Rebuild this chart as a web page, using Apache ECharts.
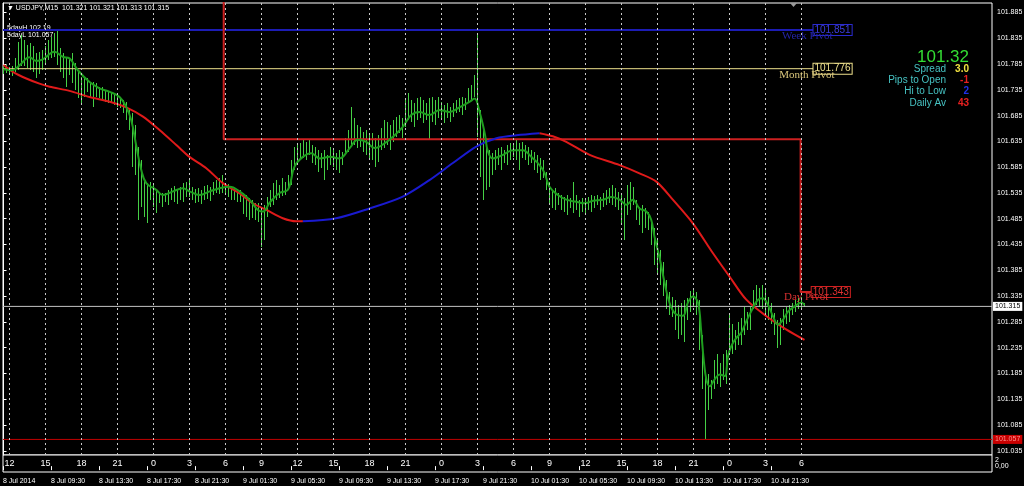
<!DOCTYPE html>
<html><head><meta charset="utf-8">
<script src="https://cdn.jsdelivr.net/npm/echarts@6/dist/echarts.min.js"></script>
<style>html,body{margin:0;padding:0;background:#000;}#c{width:1024px;height:486px;}</style>
</head><body><div id="c"></div>
<script>
// ---- data (USDJPY M15, one value per bar) ----
const highs = [
101.781,101.783,101.779,101.781,101.796,101.827,101.841,101.831,101.822,101.825,
101.820,101.806,101.808,101.812,101.820,101.831,101.837,101.845,101.849,101.816,
101.806,101.798,101.796,101.806,101.787,101.773,101.760,101.760,101.758,101.748,
101.750,101.748,101.740,101.740,101.734,101.731,101.731,101.729,101.725,101.721,
101.715,101.711,101.700,101.690,101.667,101.624,101.599,101.560,101.554,101.556,
101.554,101.541,101.537,101.535,101.535,101.541,101.545,101.549,101.541,101.547,
101.554,101.556,101.560,101.547,101.543,101.545,101.541,101.549,101.551,101.547,
101.556,101.560,101.564,101.570,101.554,101.553,101.547,101.545,101.541,101.541,
101.535,101.531,101.525,101.522,101.516,101.516,101.508,101.512,101.527,101.541,
101.554,101.560,101.551,101.564,101.556,101.570,101.599,101.624,101.628,101.632,
101.638,101.634,101.638,101.628,101.624,101.618,101.612,101.618,101.609,101.624,
101.618,101.612,101.618,101.614,101.641,101.657,101.702,101.680,101.667,101.663,
101.653,101.657,101.647,101.651,101.641,101.647,101.661,101.676,101.672,101.667,
101.676,101.682,101.686,101.680,101.715,101.729,101.715,101.709,101.719,101.721,
101.715,101.709,101.719,101.721,101.715,101.721,101.711,101.705,101.709,101.702,
101.709,101.715,101.719,101.721,101.719,101.738,101.744,101.764,101.845,101.696,
101.657,101.638,101.618,101.612,101.618,101.622,101.624,101.618,101.628,101.632,
101.632,101.638,101.632,101.634,101.628,101.624,101.618,101.614,101.609,101.603,
101.599,101.576,101.556,101.541,101.545,101.535,101.531,101.527,101.531,101.525,
101.556,101.531,101.522,101.525,101.522,101.527,101.531,101.529,101.531,101.527,
101.535,101.541,101.545,101.551,101.545,101.537,101.531,101.525,101.551,101.556,
101.547,101.522,101.508,101.512,101.506,101.498,101.479,101.467,101.444,101.425,
101.402,101.367,101.342,101.334,101.328,101.318,101.322,101.328,101.332,101.344,
101.347,101.342,101.328,101.260,101.183,101.183,101.173,101.212,101.222,101.206,
101.222,101.231,101.299,101.280,101.270,101.284,101.293,101.313,101.305,101.314,
101.347,101.357,101.351,101.357,101.347,101.334,101.322,101.303,101.289,101.293,
101.309,101.314,101.318,101.322,101.328,101.332,101.334,101.321];
const lows = [
101.765,101.767,101.764,101.762,101.769,101.773,101.781,101.781,101.777,101.773,
101.769,101.758,101.765,101.773,101.785,101.792,101.796,101.798,101.783,101.769,
101.758,101.740,101.764,101.748,101.734,101.719,101.709,101.721,101.731,101.721,
101.702,101.721,101.719,101.715,101.711,101.709,101.711,101.705,101.702,101.700,
101.690,101.676,101.657,101.585,101.570,101.483,101.508,101.489,101.477,101.522,
101.508,101.496,101.516,101.508,101.518,101.512,101.522,101.518,101.514,101.522,
101.518,101.527,101.527,101.522,101.516,101.518,101.514,101.522,101.524,101.520,
101.531,101.535,101.533,101.535,101.535,101.527,101.522,101.522,101.518,101.518,
101.495,101.489,101.483,101.487,101.483,101.479,101.430,101.444,101.489,101.508,
101.512,101.522,101.525,101.529,101.531,101.541,101.551,101.580,101.589,101.599,
101.603,101.599,101.609,101.593,101.589,101.576,101.583,101.560,101.580,101.589,
101.585,101.580,101.574,101.589,101.609,101.614,101.624,101.628,101.622,101.624,
101.614,101.609,101.603,101.599,101.585,101.595,101.618,101.622,101.628,101.618,
101.634,101.643,101.651,101.641,101.663,101.676,101.672,101.663,101.676,101.680,
101.671,101.676,101.638,101.672,101.667,101.680,101.676,101.671,101.680,101.672,
101.682,101.690,101.692,101.686,101.696,101.709,101.715,101.721,101.643,101.566,
101.522,101.541,101.547,101.570,101.580,101.589,101.580,101.593,101.589,101.599,
101.605,101.599,101.580,101.603,101.599,101.589,101.593,101.580,101.574,101.560,
101.564,101.541,101.512,101.506,101.502,101.512,101.502,101.498,101.493,101.506,
101.496,101.502,101.489,101.498,101.493,101.502,101.498,101.506,101.512,101.502,
101.508,101.512,101.516,101.512,101.508,101.502,101.473,101.444,101.493,101.502,
101.512,101.483,101.473,101.458,101.468,101.464,101.434,101.396,101.380,101.357,
101.336,101.309,101.299,101.295,101.270,101.251,101.260,101.245,101.289,101.305,
101.313,101.299,101.231,101.154,101.057,101.115,101.135,101.154,101.164,101.158,
101.173,101.164,101.231,101.222,101.231,101.241,101.241,101.260,101.270,101.270,
101.309,101.318,101.313,101.309,101.299,101.289,101.280,101.260,101.235,101.241,
101.270,101.280,101.284,101.299,101.305,101.309,101.309,101.313];
// fast MA (green), [bar index, price]
const fastMA = [[0,101.775],[3,101.773],[5.4,101.783],[8.7,101.798],[10.9,101.791],[13.1,101.794],[17,101.809],[19.8,101.799],[22,101.796],[24.8,101.773],[28.7,101.750],[32,101.738],[35.4,101.731],[38.7,101.721],[40.9,101.702],[42.6,101.676],[44.3,101.625],[45.9,101.580],[47.6,101.554],[50.9,101.541],[53.1,101.531],[56.5,101.538],[59.8,101.544],[62,101.538],[65.4,101.531],[68.7,101.538],[72,101.544],[75.4,101.547],[78.7,101.538],[82,101.522],[84.8,101.502],[86.5,101.499],[88.7,101.516],[92,101.535],[94.8,101.541],[97,101.586],[99.8,101.605],[102.6,101.612],[105.4,101.602],[108.7,101.605],[112,101.602],[115.4,101.622],[118.1,101.638],[120.9,101.634],[123.7,101.622],[127,101.631],[130.4,101.647],[133.1,101.663],[135.9,101.686],[138.7,101.692],[142,101.686],[145.4,101.696],[148.7,101.692],[152,101.701],[155.4,101.712],[157,101.718],[158.7,101.692],[160.4,101.651],[161.5,101.615],[163.1,101.602],[166.5,101.609],[169.8,101.618],[173.1,101.618],[175.9,101.605],[178.7,101.589],[180.4,101.573],[182,101.547],[184.8,101.531],[187.6,101.522],[190.9,101.518],[193.7,101.515],[196.5,101.520],[199.8,101.522],[202.6,101.527],[205.4,101.522],[207.6,101.512],[209.8,101.522],[212,101.505],[214.3,101.499],[215.9,101.483],[217,101.450],[218.7,101.409],[220.4,101.360],[222,101.322],[223.9,101.301],[226.5,101.297],[228.1,101.322],[229.8,101.334],[231.5,101.322],[232.6,101.264],[233.4,101.212],[234.3,101.173],[235.4,101.160],[237,101.173],[238.7,101.183],[240.4,101.180],[241.5,101.218],[242.6,101.238],[244.3,101.254],[245.9,101.264],[247.6,101.286],[249.8,101.312],[251.5,101.328],[253.1,101.331],[254.8,101.318],[256.5,101.296],[258.1,101.280],[259.8,101.289],[261.5,101.305],[263.7,101.315],[265.9,101.322],[267,101.318]];
// slow MA, coloured by slope
const slowFalling1 = [[0,101.783],[3.1,101.770],[7.6,101.757],[12,101.747],[15.4,101.741],[22,101.733],[28.7,101.721],[35.4,101.712],[40.9,101.701],[46.5,101.683],[52,101.657],[57.6,101.628],[62,101.605],[67.6,101.583],[73.1,101.554],[78.7,101.534],[83.1,101.515],[87.6,101.502],[93.1,101.486],[97.6,101.480],[99.8,101.480]];
const slowRising = [[99.8,101.480],[110.9,101.486],[122,101.505],[133.1,101.528],[142,101.560],[149.8,101.593],[157.6,101.625],[164.3,101.641],[170.9,101.647],[178.7,101.651]];
const slowFalling2 = [[178.7,101.651],[183.1,101.645],[187.6,101.634],[195.4,101.609],[205.4,101.589],[212,101.573],[217.6,101.557],[223.1,101.522],[229.8,101.476],[236.5,101.418],[242,101.373],[247.6,101.328],[254.3,101.296],[261,101.270],[267,101.250]];
const dayPivotSteps = [[73.4,102.0],[73.4,101.639],[265.7,101.639],[265.7,101.343],[269.4,101.343]];
const weekPivot = 101.851, monthPivot = 101.776, dayPivot = 101.343;
const bidPrice = 101.315, fiveDayLow = 101.057, fiveDayHigh = 102.19;
const priceTicks = [101.035,101.085,101.135,101.185,101.235,101.285,101.335,101.385,101.435,101.485,101.535,101.585,101.635,101.685,101.735,101.785,101.835,101.885];
const hourTicks = [2,14,26,38,50,62,74,86,98,110,122,134,146,158,170,182,194,206,218,230,242,254,266];
const hourLabels = ['12','15','18','21','0','3','6','9','12','15','18','21','0','3','6','9','12','15','18','21','0','3','6'];
const dateTicks = [-0.1667,15.8333,31.8333,47.8333,63.8333,79.8333,95.8333,111.8333,127.8333,143.8333,159.8333,175.8333,191.8333,207.8333,223.8333,239.8333,255.8333];
const dateLabels = ['8 Jul 2014','8 Jul 09:30','8 Jul 13:30','8 Jul 17:30','8 Jul 21:30','9 Jul 01:30','9 Jul 05:30','9 Jul 09:30','9 Jul 13:30','9 Jul 17:30','9 Jul 21:30','10 Jul 01:30','10 Jul 05:30','10 Jul 09:30','10 Jul 13:30','10 Jul 17:30','10 Jul 21:30'];
const subMaxTick = 2, subMinTick = 0;
const headerValues = ['101.321','101.321','101.313','101.315'];
const infoLabels = ['Spread','Pips to Open','Hi to Low','Daily Av'];
const infoValues = ['3.0','-1','2','43'];
const infoValueColors = ['#f0e040','#e82020','#2030e8','#e82020'];
const bigPrice = '101.32';

// ---- chart ----
const F = 'Liberation Sans';
const XMIN = -0.1667, XMAX = 329.5;
const chart = echarts.init(document.getElementById('c'), null, {renderer:'canvas'});
const bars = highs.map((h, i) => [i, lows[i], h]);

const graphic = [
  {type:'text', left:7, top:5, style:{text:'\u25BC USDJPY,M15  ' + headerValues.join(' '), fill:'#fff', font:'7px "Liberation Sans", "DejaVu Sans"'}},
  {type:'text', left:7, top:25, style:{text:'5dayH ' + fiveDayHigh.toFixed(2), fill:'#fff', font:'7px "Liberation Sans"'}},
  {type:'text', left:7, top:32, style:{text:'5dayL ' + fiveDayLow.toFixed(3), fill:'#fff', font:'7px "Liberation Sans"'}},
  {type:'text', right:55, top:49, style:{text:bigPrice, fill:'#33dd33', font:'17px "Liberation Sans"'}},
  {type:'polygon', shape:{points:[[790,3],[797,3],[793.5,7]]}, style:{fill:'#9a9a9a'}}
];
infoLabels.forEach((t, k) => {
  graphic.push({type:'text', right:78, top:64 + 11.3*k, style:{text:t, fill:'#46c3c3', font:'10px "Liberation Sans"'}});
  graphic.push({type:'text', right:55, top:64 + 11.3*k, style:{text:infoValues[k], fill:infoValueColors[k], font:'bold 10px "Liberation Sans"'}});
});

function boxLabel(txt, color, textColor, bg) {
  return {show:true, formatter:txt, color:textColor, fontSize:10, fontFamily:F, lineHeight:9,
    backgroundColor:bg, borderColor:color, borderWidth:1, padding:[1,1,0,1], distance:0};
}
function nameMark(i, price, txt, color, dy) {
  return {symbol:'rect', symbolSize:1, itemStyle:{color:'rgba(0,0,0,0)'}, z:10, silent:true,
    data:[{coord:[i, price], label:{show:true, position:'right', distance:0, offset:[0, dy], formatter:txt,
      color:color, fontFamily:'Liberation Serif', fontSize:11}}]};
}
function subAxis(tick, txt) {
  return {gridIndex:1, type:'value', position:'right', offset:0, min:-2, max:3.8,
    axisLine:{show:false}, axisTick:{show:false}, splitLine:{show:false},
    axisLabel:{customValues:[tick], margin:3, color:'#fff', fontSize:7, fontFamily:F, hideOverlap:false, formatter:() => txt}};
}

const option = {
  backgroundColor:'#000',
  animation:false,
  textStyle:{fontFamily:F},
  grid:[
    {left:3, top:3, width:989, height:452, show:true, borderColor:'#fff', borderWidth:1, backgroundColor:'#000', outerBoundsMode:'none'},
    {left:3, top:455, width:989, height:17, show:true, borderColor:'#fff', borderWidth:1, backgroundColor:'#000', outerBoundsMode:'none'}
  ],
  xAxis:[
    {gridIndex:0, type:'value', min:XMIN, max:XMAX, show:false},
    {gridIndex:1, type:'value', min:XMIN, max:XMAX, position:'top',
      axisLine:{show:false}, axisTick:{show:false}, splitLine:{show:false},
      axisLabel:{customValues:hourTicks, inside:true, margin:4, color:'#fff', fontSize:9, fontFamily:F, hideOverlap:false,
        formatter:(v) => hourLabels[hourTicks.indexOf(v)]}},
    {gridIndex:1, type:'value', min:XMIN, max:XMAX, position:'bottom',
      axisLine:{show:false}, splitLine:{show:false},
      axisTick:{show:true, customValues:dateTicks, length:4, lineStyle:{color:'#fff'}},
      axisLabel:{customValues:dateTicks, align:'left', margin:6, color:'#fff', fontSize:7, fontFamily:F, hideOverlap:false,
        formatter:(v) => dateLabels[dateTicks.indexOf(v)]}}
  ],
  yAxis:[
    {gridIndex:0, type:'value', position:'right', min:101.0268, max:101.9034, scale:true,
      axisLine:{show:true, lineStyle:{color:'#fff'}}, splitLine:{show:false},
      axisTick:{show:true, customValues:priceTicks, length:3, lineStyle:{color:'#fff'}},
      axisLabel:{customValues:priceTicks, margin:5, color:'#fff', fontSize:7, fontFamily:F, hideOverlap:false, formatter:(v) => v.toFixed(3)}},
    subAxis(subMaxTick, String(subMaxTick)),
    subAxis(subMinTick, subMinTick.toFixed(2).replace('.', ','))
  ],
  series:[
    {name:'bid', type:'line', xAxisIndex:0, yAxisIndex:0, data:[[XMIN,bidPrice],[XMAX,bidPrice]], symbol:'none', silent:true,
      lineStyle:{color:'#c4c4c4', width:1},
      endLabel:{show:true, formatter:bidPrice.toFixed(3), color:'#000', backgroundColor:'#fff', fontSize:7, fontFamily:F, padding:[1,2,1,2], distance:1},
      markLine:{silent:true, symbol:['none','none'], label:{show:false}, lineStyle:{color:'#c8c8c8', type:[2,3], width:1},
        data:hourTicks.map(v => ({xAxis:v}))}},
    {name:'5dayL', type:'line', xAxisIndex:0, yAxisIndex:0, data:[[XMIN,fiveDayLow],[XMAX,fiveDayLow]], symbol:'none', silent:true,
      lineStyle:{color:'#c00000', width:1},
      endLabel:{show:true, formatter:fiveDayLow.toFixed(3), color:'#ff9090', backgroundColor:'#c80000', fontSize:7, fontFamily:F, padding:[1,2,1,2], distance:1}},
    {name:'week', type:'line', xAxisIndex:0, yAxisIndex:0, data:[[XMIN,weekPivot],[270,weekPivot]], symbol:'none', silent:true,
      lineStyle:{color:'#1c1cb4', width:2},
      endLabel:boxLabel(weekPivot.toFixed(3), '#2a2ad0', '#3c3ce0', '#000'),
      markPoint:nameMark(259.3, weekPivot, 'Week Pivot', '#2424a8', 6)},
    {name:'month', type:'line', xAxisIndex:0, yAxisIndex:0, data:[[XMIN,monthPivot],[270,monthPivot]], symbol:'none', silent:true,
      lineStyle:{color:'#eee08c', width:1},
      endLabel:boxLabel(monthPivot.toFixed(3), '#eee08c', '#eee08c', '#000'),
      markPoint:nameMark(258.4, monthPivot, 'Month Pivot', '#dcc87c', 6)},
    {name:'bars', type:'custom', xAxisIndex:0, yAxisIndex:0, data:bars, clip:true, silent:true,
      encode:{x:0, y:[1,2]},
      renderItem:(params, api) => {
        const a = api.coord([api.value(0), api.value(1)]);
        const b = api.coord([api.value(0), api.value(2)]);
        const x = Math.round(a[0] - 0.5) + 0.5;
        let y1 = Math.round(a[1]), y2 = Math.round(b[1]);
        if (y1 - y2 < 1) y1 = y2 + 1;
        return {type:'line', shape:{x1:x, y1:y1, x2:x, y2:y2}, style:{stroke:'#45d045', lineWidth:1}};
      }},
    {name:'dayPivot', type:'line', xAxisIndex:0, yAxisIndex:0, data:dayPivotSteps, symbol:'none', silent:true, clip:true,
      lineStyle:{color:'#cc2020', width:2},
      endLabel:boxLabel(dayPivot.toFixed(3), '#d02020', '#e03030', '#000'),
      markPoint:nameMark(260, dayPivot, 'Day Pivot', '#d83030', 5.5)},
    {name:'slow1', type:'line', xAxisIndex:0, yAxisIndex:0, data:slowFalling1, symbol:'none', smooth:0.3, silent:true,
      lineStyle:{color:'#e01a1a', width:2}},
    {name:'slowUp', type:'line', xAxisIndex:0, yAxisIndex:0, data:slowRising, symbol:'none', smooth:0.3, silent:true,
      lineStyle:{color:'#1a1ad0', width:2}},
    {name:'slow2', type:'line', xAxisIndex:0, yAxisIndex:0, data:slowFalling2, symbol:'none', smooth:0.3, silent:true,
      lineStyle:{color:'#e01a1a', width:2}},
    {name:'fast', type:'line', xAxisIndex:0, yAxisIndex:0, data:fastMA, symbol:'none', smooth:0.4, silent:true,
      lineStyle:{color:'#1f9e1f', width:2}}
  ],
  graphic:graphic
};
chart.setOption(option);
</script>
</body></html>
